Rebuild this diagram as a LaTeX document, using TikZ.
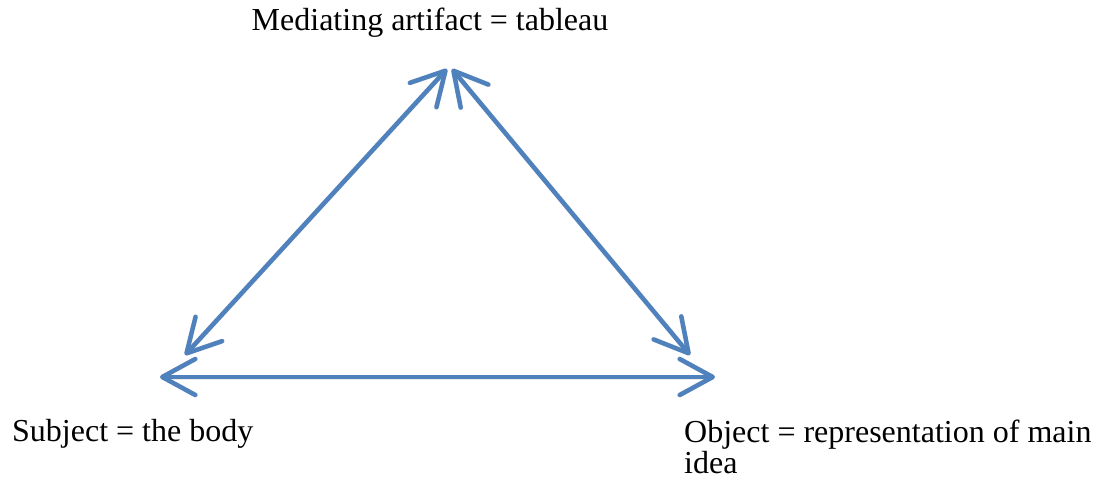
\documentclass[tikz,border=0pt]{standalone}
\usepackage{fontspec}
\setmainfont{Liberation Serif}
\usetikzlibrary{arrows.meta}
\definecolor{offblue}{HTML}{4F81BD}
\tikzset{
  barb/.tip={Straight Barb[length=33pt,width=36pt,line cap=round,line join=round]},
  link/.style={draw=offblue, line width=4.5pt, line cap=round, barb-barb},
  shade/.style={draw=black!35, opacity=0.22, line width=5pt, line cap=round, barb-barb},
  lbl/.style={font=\fontsize{32}{31}\selectfont, inner sep=0pt, anchor=base west, align=left}
}
\begin{document}
\begin{tikzpicture}[x=1pt,y=1pt]
\useasboundingbox (0,0) rectangle (1103,483);
\coordinate (A1) at (447,414);
\coordinate (A2) at (452,414);
\coordinate (L) at (185,128);
\coordinate (R) at (690,128);
\coordinate (H1) at (160,106);
\coordinate (H2) at (715,106);
\begin{scope}[shift={(2,-3)}]
\draw[shade] (L) -- (A1);
\draw[shade] (R) -- (A2);
\draw[shade] (H1) -- (H2);
\end{scope}
\draw[link] (L) -- (A1);
\draw[link] (R) -- (A2);
\draw[link] (H1) -- (H2);
\node[lbl, anchor=base] (med) at (430,452) {Mediating artifact = tableau};
\node[lbl] (sub) at (12,42) {Subject = the body};
\node[lbl] (obj) at (684,10) {Object = representation of main\\idea};
\end{tikzpicture}
\end{document}
